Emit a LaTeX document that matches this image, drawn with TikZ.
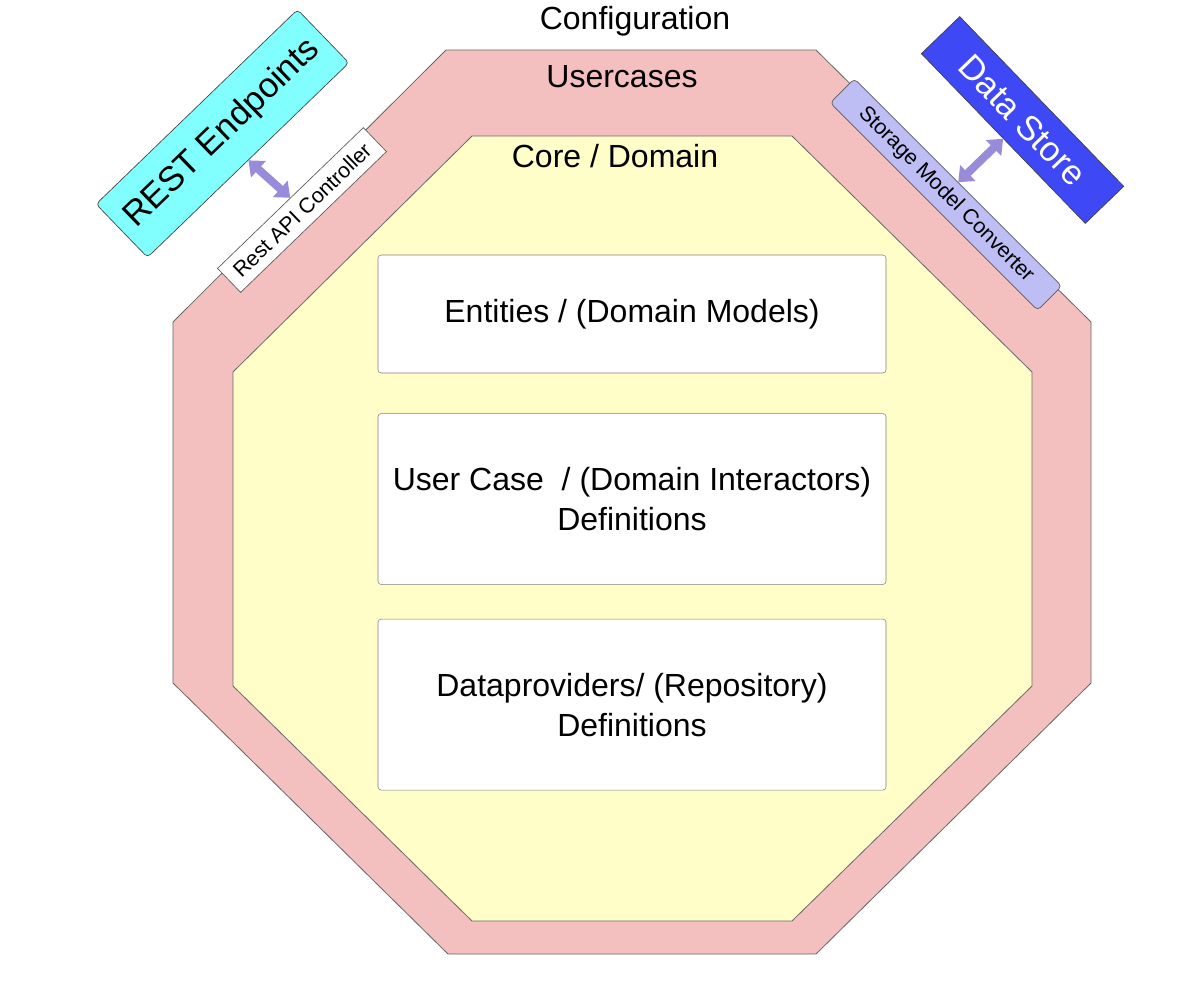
\documentclass[tikz,border=0pt]{standalone}
\usepackage{fontspec}
\setmainfont{Liberation Sans}
\usetikzlibrary{positioning, arrows.meta}

\definecolor{ringpink}{RGB}{244,192,191}
\definecolor{coreyellow}{RGB}{255,253,200}
\definecolor{restcyan}{RGB}{128,255,254}
\definecolor{storeblue}{RGB}{62,72,245}
\definecolor{convlavender}{RGB}{190,190,245}
\definecolor{linkpurple}{RGB}{152,140,218}

\begin{document}
\begin{tikzpicture}[
    x=0.75pt, y=-0.75pt,
    ring/.style={draw=black!60, line width=0.6pt},
    layer/.style={anchor=base, font=\fontsize{24}{30}\selectfont},
    part/.style={rectangle, draw=black!50, fill=white, rounded corners=2.5pt, align=center, minimum width=381pt, inner sep=0pt, font=\fontsize{24}{30}\selectfont},
    outside/.style={rectangle, draw=black!75, line width=0.5pt, inner sep=0pt, font=\fontsize{26}{30}\selectfont},
    adapter/.style={rectangle, draw=black!65, line width=0.5pt, inner sep=0pt, font=\fontsize{16}{20}\selectfont},
    link/.style={{Triangle[length=10pt, width=16pt]}-{Triangle[length=10pt, width=16pt]}, line width=6pt, linkpurple}
]

    \useasboundingbox (0,0) rectangle (1194,996);

    % === Rings ===
    % Usercases ring
    \draw[ring, fill=ringpink] (446,50) -- (816,50) -- (1091,322) -- (1091,683)
        -- (816,954) -- (448,954) -- (173,683) -- (173,322) -- cycle;
    % Core ring
    \draw[ring, fill=coreyellow] (472,136) -- (792,136) -- (1032,372) -- (1032,686)
        -- (792,921) -- (472,921) -- (233,686) -- (233,372) -- cycle;

    % Ring labels
    \node[layer] (config) at (635,29) {Configuration};
    \node[layer] (usecases) at (622,87) {Usercases};
    \node[layer] (core) at (615,167) {Core / Domain};

    % === Core parts ===
    \node[part, minimum height=88.5pt] (entities) at (632,314) {Entities / (Domain Models)};
    \node[part, minimum height=128.25pt, below=30pt of entities] (interactors) {User Case\ \ / (Domain Interactors)\\Definitions};
    \node[part, minimum height=128.25pt, below=25.5pt of interactors] (dataprov) {Dataproviders/ (Repository)\\Definitions};

    % === REST side ===
    \node[outside, fill=restcyan, rounded corners=3pt, rotate=44, minimum width=210pt, minimum height=55.5pt] (rest) at (222.5,133.5) {REST Endpoints};
    \node[adapter, fill=white, rotate=44, minimum width=152pt, minimum height=25pt] (controller) at (302,210) {Rest API Controller};
    \draw[link] (rest.south) -- (controller.north);

    % === Storage side ===
    \node[outside, fill=storeblue, text=white, rotate=-46, minimum width=177pt, minimum height=40pt] (store) at (1022.5,120) {Data Store};
    \node[adapter, fill=convlavender, rounded corners=3pt, rotate=-45, minimum width=220pt, minimum height=25.5pt] (converter) at (946,194.5) {Storage Model Converter};
    \draw[link] (converter.north) -- (store.south);

\end{tikzpicture}
\end{document}
